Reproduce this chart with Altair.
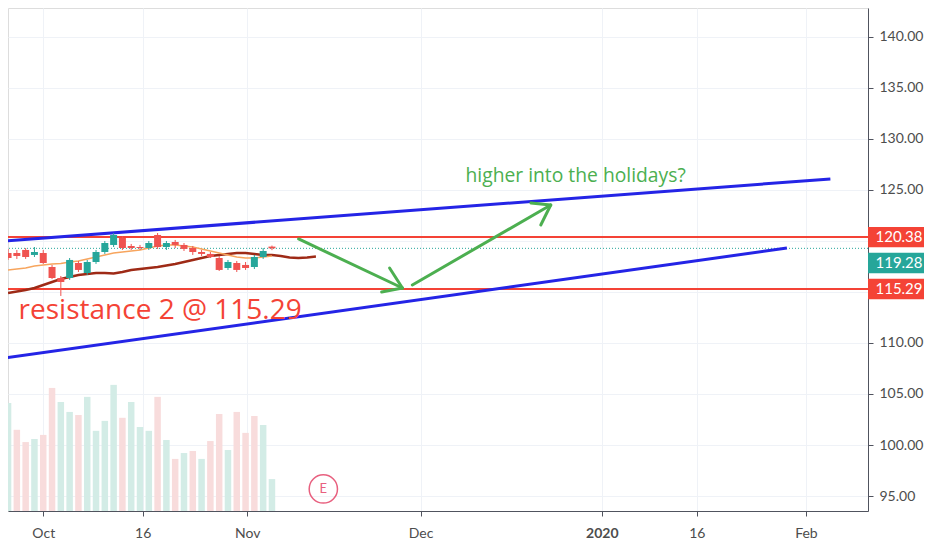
import altair as alt
import pandas as pd

# ---------------- data ----------------
# daily candles, bar index 0..30 (bar 4 = 1 Oct 2019, bar 30 = 6 Nov 2019)
opens = [118.82, 118.82, 119.12, 118.63, 118.82, 117.45, 116.37, 116.37, 117.84, 116.86,
         117.94, 118.92, 119.61, 120.29, 119.51, 119.41, 119.31, 120.59, 119.41, 119.90,
         119.61, 119.31, 118.92, 118.73, 118.33, 117.35, 117.84, 117.65, 117.45, 118.43, 119.45]
highs = [119.22, 119.12, 119.31, 119.41, 119.12, 117.65, 116.57, 118.33, 118.04, 118.14,
         119.12, 120.00, 120.78, 120.49, 119.71, 119.61, 120.00, 120.78, 120.00, 120.10,
         119.80, 119.51, 119.12, 118.92, 118.53, 118.14, 118.04, 117.94, 118.63, 119.31, 119.55]
lows = [118.14, 118.24, 118.24, 118.43, 117.75, 116.27, 114.61, 116.18, 116.96, 116.67,
        117.75, 118.73, 119.41, 119.12, 119.12, 119.12, 119.12, 119.22, 119.12, 119.31,
        119.02, 118.63, 118.53, 118.33, 117.06, 117.16, 116.96, 117.16, 117.25, 118.24, 119.10]
closes = [118.33, 118.53, 118.43, 118.92, 117.84, 116.37, 115.98, 118.14, 117.16, 117.94,
          118.92, 119.80, 120.59, 119.31, 119.31, 119.31, 119.80, 119.41, 119.80, 119.61,
          119.22, 118.92, 118.73, 118.43, 117.16, 117.94, 117.16, 117.35, 118.43, 119.02, 119.28]
volumes = [4.23, 3.18, 2.70, 2.82, 2.98, 4.82, 4.27, 3.88, 3.76, 4.47,
           3.14, 3.53, 4.94, 3.65, 4.27, 3.29, 3.14, 4.47, 2.78, 2.04,
           2.27, 2.35, 2.04, 2.74, 3.80, 2.39, 3.88, 3.06, 3.72, 3.37, 1.25]
vol_dir = ["up", "down", "down", "up", "down", "down", "up", "up", "down", "up",
           "up", "up", "up", "down", "up", "up", "up", "down", "up", "down",
           "up", "down", "up", "down", "down", "up", "down", "down", "down", "up", "up"]
ma_fast = [117.16, 117.25, 117.35, 117.55, 117.65, 117.75, 117.79, 117.94, 118.04, 118.24,
           118.43, 118.63, 118.82, 118.92, 119.02, 119.12, 119.31, 119.51, 119.61, 119.61,
           119.51, 119.41, 119.22, 119.02, 118.82, 118.63, 118.43, 118.33, 118.33, 118.43, 118.53]
ma_slow = [114.90, 115.05, 115.20, 115.39, 115.69, 115.98, 116.27, 116.47, 116.67, 116.76,
           116.86, 116.86, 116.81, 116.96, 117.16, 117.25, 117.35, 117.45, 117.60, 117.75,
           117.94, 118.14, 118.33, 118.53, 118.63, 118.73, 118.82, 118.82, 118.73, 118.63,
           118.63, 118.53, 118.38, 118.33, 118.38, 118.48]

x_tick_pos = [4, 15.3, 27.2, 46.9, 67.5, 78.3, 90.7]
x_tick_lab = ["Oct", "16", "Nov", "Dec", "2020", "16", "Feb"]
y_ticks = [95, 100, 105, 110, 115, 120, 125, 130, 135, 140]
y_hidden = [115, 120]   # labels covered by the price boxes

# drawn trend lines (bar index, price)
upper_k = [-0.34, 93.48]
upper_p = [120.00, 126.08]
lower_k = [-0.34, 88.54]
lower_p = [108.53, 119.31]

# horizontal levels
resist_hi = 120.38
resist_lo = 115.29
last_price = 119.28

# green arrows: shaft start, tip, barb a, barb b
arrow1_k = [33.03, 44.83, 43.37, 42.47]
arrow1_p = [120.20, 115.39, 117.35, 115.00]
arrow2_k = [45.96, 61.69, 59.44, 60.56]
arrow2_p = [115.69, 123.53, 123.73, 121.57]

note_up = "higher into the holidays?"
note_up_k, note_up_p = 52.0, 126.40
note_res = "resistance 2 @ 115.29"
note_res_k, note_res_p = 1.2, 113.10
earn_k, earn_p = 35.84, 95.69

# ---------------- styling ----------------
UP, DOWN = "#26a69a", "#ef5350"
VOL_UP, VOL_DOWN = "#d3ece6", "#f8dcdc"
RED = "#f44336"
BLUE = "#2424e6"
GREEN = "#4caf50"
GRID = "#eff2f7"
TXT = "#4d4d4d"
FONT = "Lato"
NOTE_FONT = "Open Sans"

W, H = 860, 503
XDOM = [0.562, 97.19]
YDOM = [93.53, 142.84]

label_expr = " : ".join(f"datum.value == {p} ? '{l}'" for p, l in zip(x_tick_pos, x_tick_lab)) + " : ''"
x_axis = alt.Axis(values=x_tick_pos, labelExpr=label_expr, grid=True, gridColor=GRID,
                  domainColor="#50535e", tickColor="#50535e", tickSize=5, labelPadding=10,
                  labelFont=FONT, labelFontSize=14, labelColor=TXT,
                  labelFontWeight={"condition": {"test": "datum.value == 67.5", "value": "bold"},
                                   "value": "normal"},
                  title=None)
y_label_expr = " || ".join(f"datum.value == {v}" for v in y_hidden) + " ? '' : format(datum.value, '.2f')"
y_axis = alt.Axis(orient="right", values=y_ticks, labelExpr=y_label_expr, grid=True, gridColor=GRID,
                  domainColor="#50535e", tickColor="#50535e", tickSize=5, labelPadding=6,
                  labelFont=FONT, labelFontSize=14, labelColor=TXT, title=None)


def X(f):
    return alt.X(f, type="quantitative", scale=alt.Scale(domain=XDOM, nice=False, zero=False),
                 axis=x_axis)


def Y(f):
    return alt.Y(f, type="quantitative", scale=alt.Scale(domain=YDOM, nice=False, zero=False),
                 axis=y_axis)


idx = list(range(len(closes)))
candles = pd.DataFrame({"k": idx, "open": opens, "high": highs, "low": lows, "close": closes,
                        "vol": volumes, "vdir": vol_dir})
candles["ccol"] = [UP if c >= o else DOWN for o, c in zip(opens, closes)]
candles["vcol"] = [VOL_UP if d == "up" else VOL_DOWN for d in vol_dir]

fast_df = pd.DataFrame({"k": list(range(len(ma_fast))), "p": ma_fast})
slow_df = pd.DataFrame({"k": list(range(len(ma_slow))), "p": ma_slow})

trend_df = pd.concat([
    pd.DataFrame({"k": upper_k, "p": upper_p, "seg": "upper", "o": [0, 1]}),
    pd.DataFrame({"k": lower_k, "p": lower_p, "seg": "lower", "o": [0, 1]}),
])

arrow_rows = []
for name, ks, ps in [("a1", arrow1_k, arrow1_p), ("a2", arrow2_k, arrow2_p)]:
    for seg, i in [("shaft", 0), ("barbA", 2), ("barbB", 3)]:
        arrow_rows.append({"k": ks[i], "p": ps[i], "seg": f"{name}-{seg}", "o": 0})
        arrow_rows.append({"k": ks[1], "p": ps[1], "seg": f"{name}-{seg}", "o": 1})
arrow_df = pd.DataFrame(arrow_rows)

levels_df = pd.DataFrame({"p": [resist_hi, resist_lo]})
last_df = pd.DataFrame({"p": [last_price]})

BOX_HALF = 1.0       # half box height in price units (~10px)
TEAL_SHIFT = 1.44    # label pushed down to avoid overlap
boxes = pd.DataFrame({
    "label": [f"{resist_hi:.2f}", f"{last_price:.2f}", f"{resist_lo:.2f}"],
    "c": [resist_hi, last_price - TEAL_SHIFT, resist_lo],
    "col": [RED, UP, RED],
})
boxes["lo"] = boxes["c"] - BOX_HALF
boxes["hi"] = boxes["c"] + BOX_HALF

vol_chart = alt.Chart(candles).mark_bar(size=6.5, clip=True).encode(
    x=X("k"),
    y=alt.Y("vol:Q", scale=alt.Scale(domain=[0, 19.7], nice=False), axis=None),
    color=alt.Color("vcol:N", scale=None),
)

level_rules = alt.Chart(levels_df).mark_rule(color=RED, strokeWidth=2).encode(y=Y("p"))
last_rule = alt.Chart(last_df).mark_rule(color=UP, strokeWidth=1, strokeDash=[1, 2]).encode(y=Y("p"))

trend = alt.Chart(trend_df).mark_line(color=BLUE, strokeWidth=3, clip=True).encode(
    x=X("k"), y=Y("p"), detail="seg:N", order="o:Q")

wicks = alt.Chart(candles).mark_rule(strokeWidth=1, clip=True).encode(
    x=X("k"), y=Y("low"), y2="high", color=alt.Color("ccol:N", scale=None))
bodies = alt.Chart(candles).mark_bar(size=7, clip=True).encode(
    x=X("k"), y=Y("open"), y2="close", color=alt.Color("ccol:N", scale=None))

ma_fast_line = alt.Chart(fast_df).mark_line(clip=True, color="#f7a55e", strokeWidth=1.5).encode(
    x=X("k"), y=Y("p"))
ma_slow_line = alt.Chart(slow_df).mark_line(clip=True, color="#9e2a16", strokeWidth=2.5).encode(
    x=X("k"), y=Y("p"))

arrows = alt.Chart(arrow_df).mark_line(color=GREEN, strokeWidth=3, strokeCap="round").encode(
    x=X("k"), y=Y("p"), detail="seg:N", order="o:Q")

note1 = alt.Chart(pd.DataFrame({"k": [note_up_k], "p": [note_up_p], "t": [note_up]})).mark_text(
    align="left", baseline="middle", font=NOTE_FONT, fontSize=19.3, color=GREEN).encode(
    x=X("k"), y=Y("p"), text="t:N")
note2 = alt.Chart(pd.DataFrame({"k": [note_res_k], "p": [note_res_p], "t": [note_res]})).mark_text(
    align="left", baseline="middle", font=NOTE_FONT, fontSize=28, color=RED).encode(
    x=X("k"), y=Y("p"), text="t:N")

earn_df = pd.DataFrame({"k": [earn_k], "p": [earn_p], "t": ["E"]})
earn_circle = alt.Chart(earn_df).mark_point(shape="circle", size=800, filled=False,
                                            stroke="#e8607f", strokeWidth=1.5, opacity=1).encode(
    x=X("k"), y=Y("p"))
earn_text = alt.Chart(earn_df).mark_text(font=FONT, fontSize=13, color="#e8607f",
                                         baseline="middle").encode(x=X("k"), y=Y("p"), text="t:N")

box_rect = alt.Chart(boxes).mark_rect().encode(
    x=alt.value(W), x2=alt.value(W + 70), y=Y("lo"), y2="hi",
    color=alt.Color("col:N", scale=None))
box_text = alt.Chart(boxes).mark_text(font=FONT, fontSize=15, color="white", align="center",
                                      baseline="middle").encode(
    x=alt.value(W + 31), y=Y("c"), text="label:N")

price = alt.layer(level_rules, last_rule, trend, ma_slow_line, ma_fast_line, wicks, bodies, arrows,
                  note1, note2, earn_circle, earn_text, box_rect, box_text)

chart = alt.layer(vol_chart, price).resolve_scale(y="independent").properties(
    width=W, height=H,
    padding={"left": 0, "top": 0, "right": 56, "bottom": 31},
    autosize=alt.AutoSizeParams(type="none"),
).configure_view(stroke=None).configure(background="white")

chart.save("out.html", embed_options={"renderer": "svg", "actions": False})
